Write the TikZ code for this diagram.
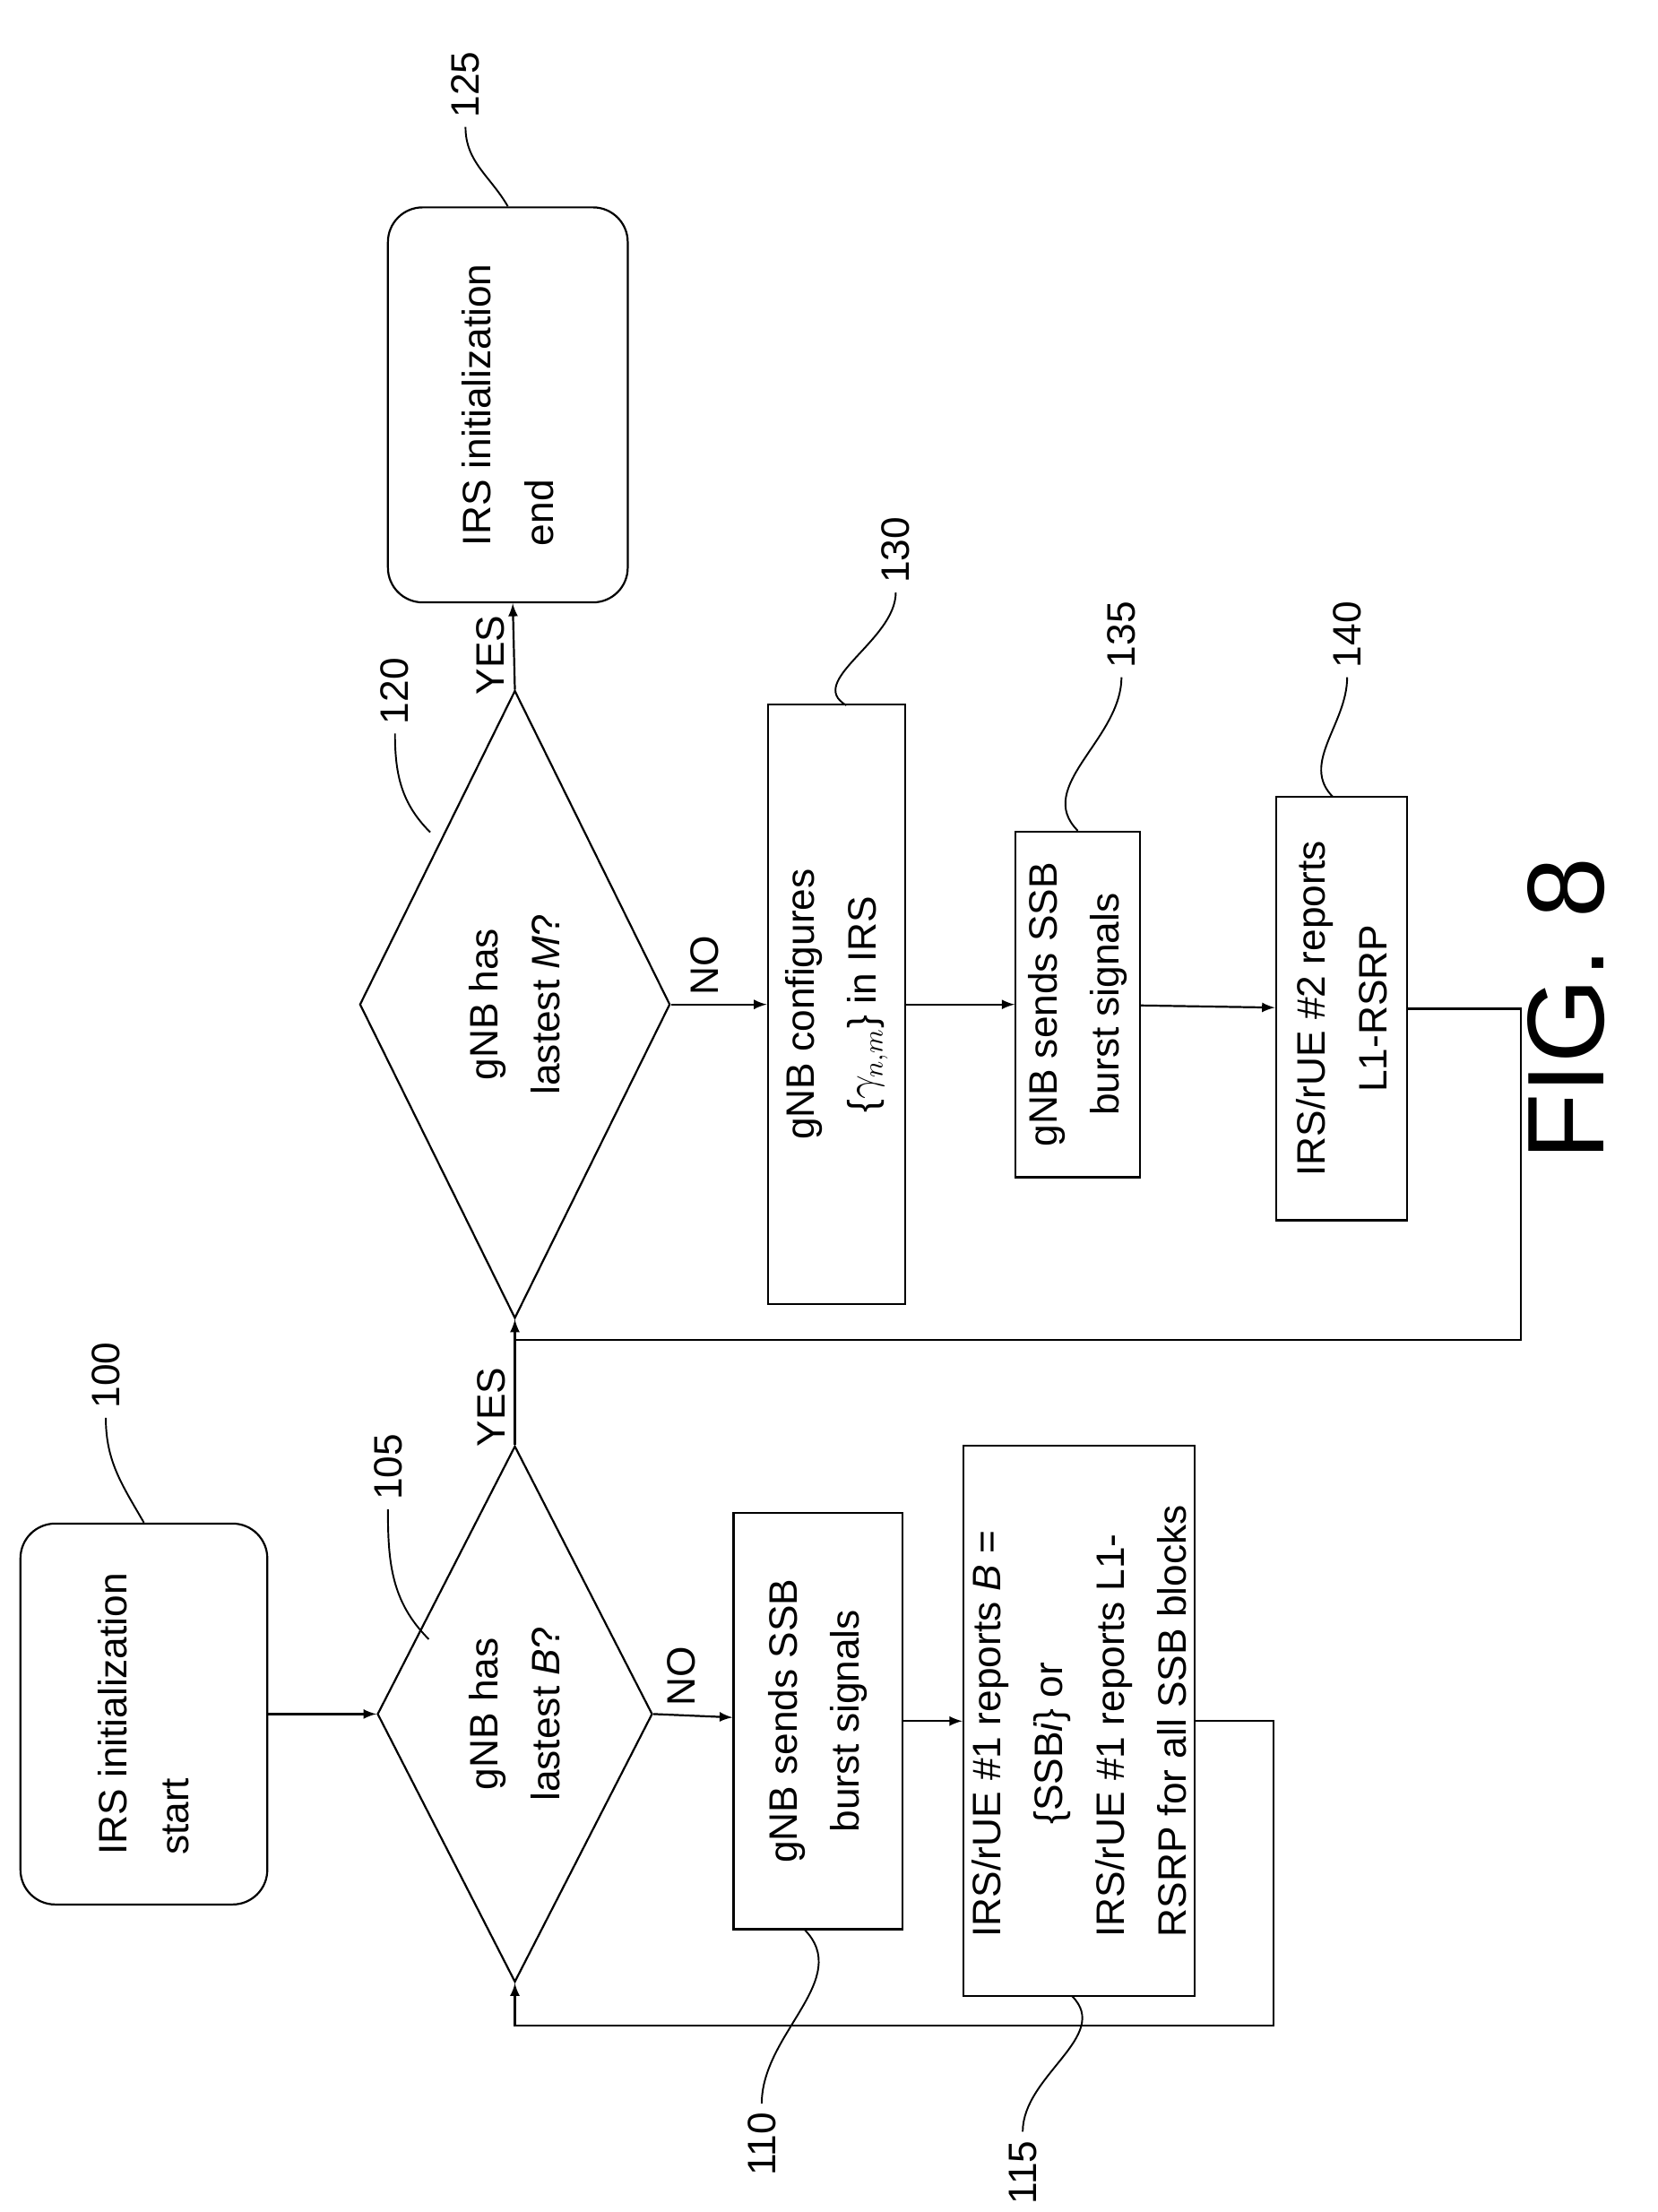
\documentclass[tikz,border=0pt]{standalone}
\usepackage{fontspec}
\setmainfont{Liberation Sans}
\usetikzlibrary{shapes.geometric,calc}

\tikzset{
  every node/.style={font=\fontsize{16}{25}\selectfont},
  block/.style={draw, line width=0.8pt, align=center},
  term/.style={draw, line width=0.8pt, rounded corners=14pt, align=left},
  decision/.style={draw, line width=0.8pt, diamond, aspect=1, inner sep=0pt, align=center},
  refnum/.style={font=\fontsize{16}{18}\selectfont},
  lead/.style={line width=0.7pt},
}

\begin{document}
\begin{tikzpicture}[>=latex, line width=0.8pt]
\useasboundingbox (0,0) rectangle (23.5,-31.36);

\begin{scope}[rotate=90, transform shape]
% Define nodes
\node[term, minimum width=5.4cm, minimum height=3.5cm] (start) at (-24.3,-2.04)
  {IRS initialization\\start};
\node[decision, minimum width=7.6cm, minimum height=3.9cm] (d105) at (-24.3,-7.3)
  {gNB has\\lastest \textit{B}?};
\node[block, minimum width=5.9cm, minimum height=2.4cm] (b110) at (-24.4,-11.6)
  {gNB sends SSB\\burst signals};
\node[block, minimum width=7.8cm, minimum height=3.2cm, align=left] (b115) at (-24.4,-15.3)
  {IRS/rUE \#1 reports \textit{B} =\\\hspace*{1.6cm}\{SSB\textit{i}\} or\\IRS/rUE \#1 reports L1-\\RSRP for all SSB blocks};
\node[decision, minimum width=8.9cm, minimum height=4.4cm] (d120) at (-14.24,-7.3)
  {gNB has\\lastest \textit{M}?};
\node[term, minimum width=5.6cm, minimum height=3.4cm] (end) at (-5.74,-7.2)
  {IRS initialization\\end};
\node[block, minimum width=8.5cm, minimum height=1.95cm] (b130) at (-14.24,-11.86)
  {gNB configures\\\{$\gamma_{n,m}$\} in IRS};
\node[block, minimum width=4.9cm, minimum height=1.76cm] (b135) at (-14.24,-15.28)
  {gNB sends SSB\\burst signals};
\node[block, minimum width=6.0cm, minimum height=1.86cm] (b140) at (-14.3,-19.02)
  {IRS/rUE \#2 reports\\L1-RSRP};
\node[font=\fontsize{44}{50}\selectfont] (fig) at (-14.3,-22.2) {FIG. 8};

\coordinate (fb105) at ($(d105.west)+(-0.6,0)$);
\coordinate (join) at (-19,-7.3);

% Flow
\draw[->] (start) -- (d105);
\draw[->] (d105.south) -- node[right, pos=0.35] {NO} (b110);
\draw[->] (b110) -- (b115);
\draw[->] (d105.east) -- node[above, pos=0.3] {YES} (d120.west);
\draw[->] (b115.south) -- ++(0,-1.1) -| (fb105) -- (d105.west);
\draw[->] (d120.east) -- node[above, pos=0.4] {YES} (end);
\draw[->] (d120.south) -- node[right, pos=0.35] {NO} (b130);
\draw[->] (b130) -- (b135);
\draw[->] (b135) -- (b140);
\draw (b140.south) -- ++(0,-1.6) -| (join);

% Reference numerals
\node[refnum] (n100) at (-19.5,-1.5) {100};
\node[refnum] (n105) at (-20.8,-5.5) {105};
\node[refnum] (n110) at (-30.4,-10.8) {110};
\node[refnum] (n115) at (-30.8,-14.5) {115};
\node[refnum] (n120) at (-9.8,-5.6) {120};
\node[refnum] (n125) at (-1.2,-6.6) {125};
\node[refnum] (n130) at (-7.8,-12.7) {130};
\node[refnum] (n135) at (-9.0,-15.9) {135};
\node[refnum] (n140) at (-9.0,-19.1) {140};
\draw[lead] (n100.west) to[out=180, in=30] (start.east);
\draw[lead] (n105.west) to[out=180, in=45] (-23.24,-6.08);
\draw[lead] (n120.west) to[out=180, in=45] (-11.8,-6.1);
\draw[lead] (n125.west) to[out=180, in=30] (end.east);
\draw[lead] (n130.west) to[out=180, in=60] (-10.0,-12.0);
\draw[lead] (n135.west) to[out=180, in=45] (b135.east);
\draw[lead] (n140.west) to[out=180, in=45] (-11.3,-18.9);
\draw[lead] (n110.east) to[out=0, in=-135] (-27.35,-11.4);
\draw[lead] (n115.east) to[out=0, in=-135] (-28.3,-15.2);
\end{scope}
\end{tikzpicture}
\end{document}
